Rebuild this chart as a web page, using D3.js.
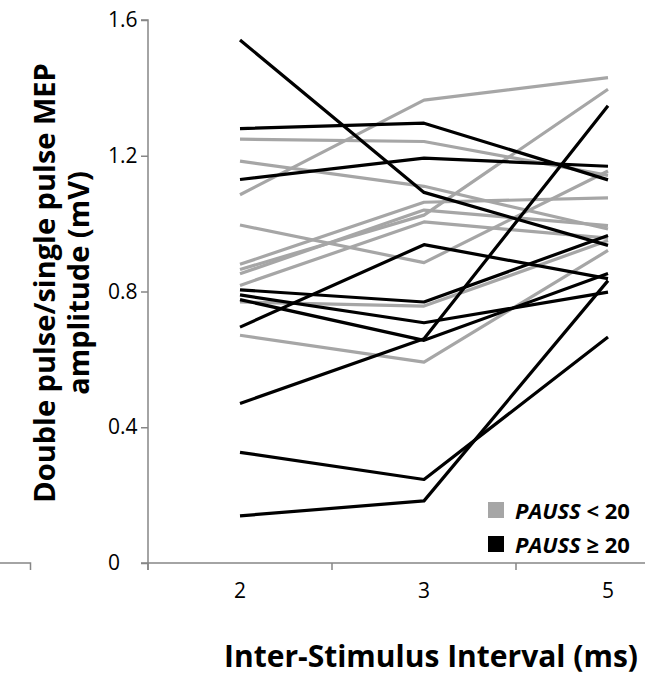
<!DOCTYPE html>
<html>
<head>
<meta charset="utf-8">
<script src="https://cdn.jsdelivr.net/npm/d3@7"></script>
<style>
  html, body { margin: 0; padding: 0; background: #fff; }
  svg { display: block; }
  text { font-family: "Open Sans", "Liberation Sans", sans-serif; }
</style>
</head>
<body>
<svg id="chart" width="645" height="681"></svg>
<script>
// ---- data ----
const categories = ["2", "3", "5"];            // inter-stimulus interval (ms)
const yTicks = [0, 0.4, 0.8, 1.2, 1.6];

// PAUSS < 20 (grey)
const grayG1  = [1.249, 1.242, 1.142];
const grayG2  = [1.184, 1.110, 0.984];
const grayG3  = [1.085, 1.364, 1.430];
const grayG4  = [0.996, 0.885, 1.155];
const grayG5  = [0.880, 1.063, 1.076];
const grayG6  = [0.865, 1.025, 1.396];
const grayG7  = [0.852, 1.040, 0.994];
const grayG8  = [0.818, 1.005, 0.957];
const grayG9  = [0.769, 0.757, 0.950];
const grayG10 = [0.671, 0.592, 0.921];
const grayLines = [grayG1, grayG2, grayG3, grayG4, grayG5, grayG6, grayG7, grayG8, grayG9, grayG10];

// PAUSS >= 20 (black)
const blackB1  = [1.541, 1.092, 0.936];
const blackB2  = [1.280, 1.296, 1.129];
const blackB3  = [1.130, 1.193, 1.169];
const blackB4  = [0.695, 0.938, 0.838];
const blackB5  = [0.470, 0.661, 1.347];
const blackB6  = [0.326, 0.246, 0.666];
const blackB7  = [0.139, 0.183, 0.832];
const blackB8  = [0.805, 0.769, 0.965];
const blackB9  = [0.790, 0.708, 0.798];
const blackB10 = [0.776, 0.656, 0.853];
const blackLines = [blackB1, blackB2, blackB3, blackB4, blackB5, blackB6, blackB7, blackB8, blackB9, blackB10];

const legendItems = [
  { name: "PAUSS", rel: " < 20", color: "#a6a6a6" },
  { name: "PAUSS", rel: " \u2265 20", color: "#000000" }
];

// ---- layout ----
const svg = d3.select("#chart");
const axisColor = "#868686";
const plotLeft = 148, plotTop = 20, plotBottom = 563, bandRight = 700;

const x = d3.scaleBand().domain(categories).range([plotLeft, bandRight]).padding(0);
const y = d3.scaleLinear().domain([0, 1.6]).range([plotBottom, plotTop]);
const cx = c => x(c) + x.bandwidth() / 2;

// fragment of neighbouring panel at far left
svg.append("path")
  .attr("d", `M0,${plotBottom}H30.5V${plotBottom + 7}`)
  .attr("fill", "none").attr("stroke", axisColor).attr("stroke-width", 1.5);

// y axis
const yAxis = svg.append("g")
  .attr("transform", `translate(${plotLeft},0)`)
  .call(d3.axisLeft(y).tickValues(yTicks).tickSize(7).tickPadding(0)
        .tickFormat(d => d === 0 ? "0" : d3.format(".1f")(d)));
yAxis.select(".domain").attr("stroke", axisColor).attr("stroke-width", 1.5)
  .attr("d", `M-7,${plotTop}H0V${plotBottom + 7}`);
yAxis.selectAll(".tick line").attr("stroke", axisColor).attr("stroke-width", 1.5);
yAxis.selectAll(".tick text")
  .attr("x", -40).attr("text-anchor", "start")
  .attr("font-size", 21).attr("fill", "#000")
  .style("font-family", "'Open Sans', sans-serif");

// x axis
const xAxis = svg.append("g")
  .attr("transform", `translate(0,${plotBottom})`)
  .call(d3.axisBottom(x).tickSize(0).tickPadding(20));
xAxis.select(".domain").attr("stroke", axisColor).attr("stroke-width", 1.5)
  .attr("d", `M${plotLeft - 7},0H${bandRight}`);
xAxis.selectAll(".tick text").attr("font-size", 21).attr("fill", "#000")
  .style("font-family", "'Open Sans', sans-serif");
// category boundary ticks
const boundaries = categories.map(c => x(c)).concat([x(categories[categories.length - 1]) + x.bandwidth()]);
xAxis.selectAll(".bnd").data(boundaries).join("line")
  .attr("class", "bnd")
  .attr("x1", d => d).attr("x2", d => d).attr("y1", 0).attr("y2", 7)
  .attr("stroke", axisColor).attr("stroke-width", 1.5);

// lines
const line = d3.line().x((d, i) => cx(categories[i])).y(d => y(d));
svg.append("g").selectAll("path").data(grayLines).join("path")
  .attr("d", line).attr("fill", "none").attr("stroke", "#a6a6a6")
  .attr("stroke-width", 3.2).attr("stroke-linejoin", "round");
svg.append("g").selectAll("path").data(blackLines).join("path")
  .attr("d", line).attr("fill", "none").attr("stroke", "#000")
  .attr("stroke-width", 3.2).attr("stroke-linejoin", "round");

// legend
const lg = svg.append("g").attr("transform", "translate(488,502)");
legendItems.forEach((it, i) => {
  const g = lg.append("g").attr("transform", `translate(0,${i * 34})`);
  g.append("rect").attr("width", 16).attr("height", 16).attr("fill", it.color);
  const t = g.append("text").attr("x", 27).attr("y", 16.5)
    .attr("font-size", 22).attr("font-weight", "bold").attr("fill", "#000");
  t.append("tspan").attr("font-style", "italic").text(it.name);
  t.append("tspan").text(it.rel);
});

// axis titles
svg.append("text")
  .attr("x", 431).attr("y", 667)
  .attr("text-anchor", "middle")
  .attr("font-size", 30).attr("font-weight", "bold").attr("fill", "#000")
  .text("Inter-Stimulus Interval (ms)");

const yl = svg.append("text")
  .attr("transform", "translate(0,283) rotate(-90)")
  .attr("text-anchor", "middle")
  .attr("font-size", 29).attr("font-weight", "bold").attr("fill", "#000");
yl.append("tspan").attr("x", 0).attr("y", 55).text("Double pulse/single pulse MEP");
yl.append("tspan").attr("x", 0).attr("y", 89).text("amplitude (mV)");
</script>
</body>
</html>
